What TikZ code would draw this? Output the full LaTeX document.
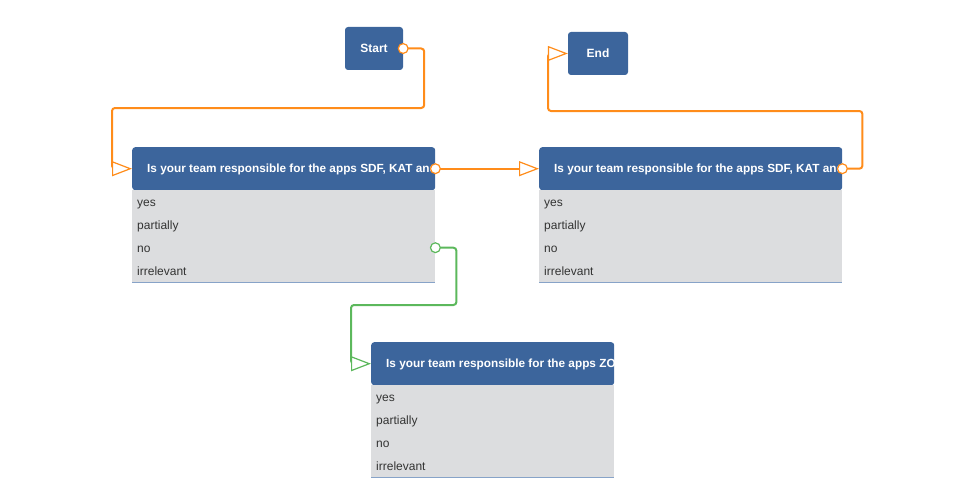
\documentclass[tikz,border=0pt]{standalone}
\usepackage{fontspec}
\setmainfont{Liberation Sans}
\usetikzlibrary{arrows.meta}

\definecolor{headblue}{HTML}{3C659C}
\definecolor{rowgray}{HTML}{DCDDDF}
\definecolor{rowline}{HTML}{B9C5D5}
\definecolor{rowbottom}{HTML}{87A3C8}
\definecolor{floworange}{HTML}{FF8C1A}
\definecolor{flowgreen}{HTML}{5CB85C}

\tikzset{
  term/.style={fill=headblue, rounded corners=3pt, minimum height=43pt, inner sep=0pt,
    text=white, font=\bfseries\fontsize{12}{14}\selectfont},
  head/.style={fill=headblue, rounded corners=3pt, minimum width=#1, minimum height=43pt,
    inner sep=0pt, anchor=north west},
  headtext/.style={text=white, font=\bfseries\fontsize{11.8}{14}\selectfont, inner sep=0pt, anchor=west},
  answer/.style={fill=rowgray, minimum width=#1, minimum height=23pt, inner sep=0pt, anchor=north west},
  answertext/.style={inner sep=0pt, anchor=base west, text=black!80, font=\fontsize{12}{14}\selectfont},
  link/.style={line width=2pt, rounded corners=3pt, shorten <=-5.5pt,
    {Circle[length=11pt,width=11pt,fill=white,line width=1.2pt]}-{Triangle[length=20pt,width=15pt,fill=white,line width=1.2pt]}}
}

\begin{document}
\begin{tikzpicture}[x=1pt,y=-1pt]
  \useasboundingbox (0,0) rectangle (967,495);

  \node[term, minimum width=58pt] (start) at (374,48.5) {\raisebox{-1pt}{Start}};
  \node[term, minimum width=60pt] (end) at (598,53.5) {\raisebox{-1pt}{End}};

  % question boxes with their answers
  \foreach \q/\x/\y/\w/\txt in {q1/132/147/303/{Is your team responsible for the apps SDF, KAT and},
      q2/539/147/303/{Is your team responsible for the apps SDF, KAT and},
      q3/371/342/243/{Is your team responsible for the apps ZO}} {
    \node[head=\w pt] (\q) at (\x,\y) {};
    \begin{scope}
      \clip (\q.south west) rectangle (\q.north east);
      \node[headtext] (\q-text) at ([xshift=15pt,yshift=-0.5pt]\q.west) {\txt};
    \end{scope}
    \foreach \a [count=\i] in {yes,partially,no,irrelevant} {
      \node[answer=\w pt] (\q-\a) at (\x,{\y+43+23*(\i-1)}) {};
      \node[answertext] (\q-\a-text) at ({\x+5},{\y+43+23*(\i-1)+16.5}) {\a};
      \draw[rowline] (\q-\a.south west) -- (\q-\a.south east);
    }
    \draw[rowbottom] (\q-irrelevant.south west) -- (\q-irrelevant.south east);
  }

  \draw[link, floworange] (start.east) -- ++(21,0) |- (112,108) |- (q1.west);
  \draw[link, floworange] (q1.east) -- (q2.west);
  \draw[link, floworange] (q2.east) -- ++(20,0) |- (548,111) |- (end.west);
  \draw[link, flowgreen] (q1-no.east) -- ++(21,0) |- (351,305) |- (q3.west);
\end{tikzpicture}
\end{document}
